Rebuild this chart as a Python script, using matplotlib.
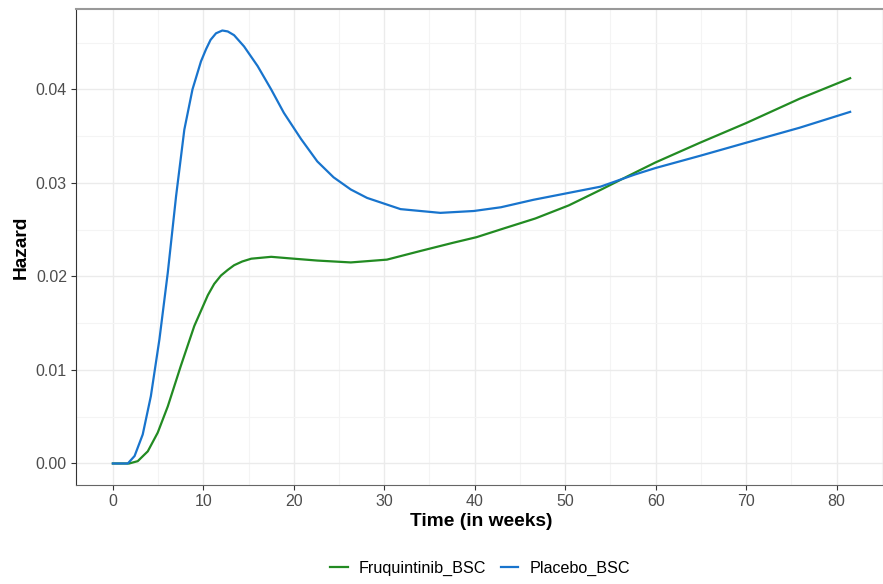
import matplotlib.pyplot as plt

plt.rcParams['font.family'] = ['Liberation Sans', 'DejaVu Sans']

# hazard curves
t_placebo = [0, 1.65, 2.4, 3.3, 4.2, 5.15, 6.07, 6.99, 7.9, 8.8, 9.74, 10.3, 10.8,
             11.4, 12.1, 12.7, 13.4, 14.5, 16.0, 17.5, 18.9, 20.8, 22.6, 24.4,
             26.3, 28.1, 31.8, 36.2, 39.9, 42.9, 46.5, 50.2, 53.9, 57.7, 60, 64.9,
             70, 75.9, 81.5]
h_placebo = [0, 0, 0.0008, 0.0031, 0.0072, 0.0133, 0.0204, 0.0286, 0.0357, 0.0400,
             0.0430, 0.0443, 0.0453, 0.0460, 0.0463, 0.0462, 0.0458, 0.0446, 0.0425,
             0.0400, 0.0375, 0.0347, 0.0323, 0.0306, 0.0293, 0.0284, 0.0272, 0.0268,
             0.0270, 0.0274, 0.0282, 0.0289, 0.0296, 0.0309, 0.0316, 0.0329, 0.0343,
             0.0359, 0.0376]

t_fruq = [0, 1.8, 2.75, 3.86, 4.96, 6.07, 7.5, 9.0, 10.5, 11.2, 11.95, 12.7, 13.4,
          14.3, 15.3, 17.5, 20.0, 22.6, 26.3, 30.3, 33.9, 37.6, 40.2, 43.1, 46.7,
          50.4, 54.0, 57.7, 60, 64.9, 70, 75.9, 81.5]
h_fruq = [0, 0, 0.00025, 0.0013, 0.0033, 0.0061, 0.0104, 0.0147, 0.0180, 0.0192,
          0.0201, 0.0207, 0.0212, 0.0216, 0.0219, 0.0221, 0.0219, 0.0217, 0.0215,
          0.0218, 0.0227, 0.0236, 0.0242, 0.0251, 0.0262, 0.0276, 0.0293, 0.0311,
          0.0322, 0.0343, 0.0364, 0.0390, 0.0412]

x_ticks = [0, 10, 20, 30, 40, 50, 60, 70, 80]
y_ticks = [0.00, 0.01, 0.02, 0.03, 0.04]

fig = plt.figure(figsize=(8.83, 5.84), dpi=100)
ax = fig.add_axes([76 / 883, 99 / 584, 811 / 883, 476 / 584])

ax.plot(t_fruq, h_fruq, color='#228B22', lw=1.6, label='Fruquintinib_BSC')
ax.plot(t_placebo, h_placebo, color='#1874CD', lw=1.6, label='Placebo_BSC')

ax.set_xlim(-4.075, 85.575)
ax.set_ylim(-0.0023, 0.0486)
ax.set_xticks(x_ticks)
ax.set_yticks(y_ticks)
ax.set_yticklabels(['%.2f' % v for v in y_ticks])
ax.set_xticks([v + 5 for v in x_ticks], minor=True)
ax.set_yticks([0.005, 0.015, 0.025, 0.035, 0.045], minor=True)

ax.grid(which='major', color='#EBEBEB', lw=1.0)
ax.grid(which='minor', color='#F4F4F4', lw=0.8)
ax.set_axisbelow(True)

ax.tick_params(which='major', length=3.5, width=0.8, color='#333333',
               labelsize=11.5, labelcolor='#4D4D4D', pad=3)
ax.tick_params(which='minor', length=0)

ax.spines['left'].set_color('#333333')
ax.spines['bottom'].set_color('#666666')
ax.spines['top'].set_color('#999999')
ax.spines['top'].set_linewidth(1.5)
ax.spines['right'].set_visible(False)

ax.set_xlabel('Time (in weeks)', fontsize=13.8, fontweight='bold', labelpad=3)
ax.set_ylabel('Hazard', fontsize=13.8, fontweight='bold', labelpad=4)

fig.legend(loc='center', bbox_to_anchor=(480 / 883, 1 - 568 / 584), ncol=2,
           frameon=False, fontsize=11.6, handlelength=1.1, columnspacing=0.9,
           handletextpad=0.7)

fig.savefig('out.png', dpi=100)
